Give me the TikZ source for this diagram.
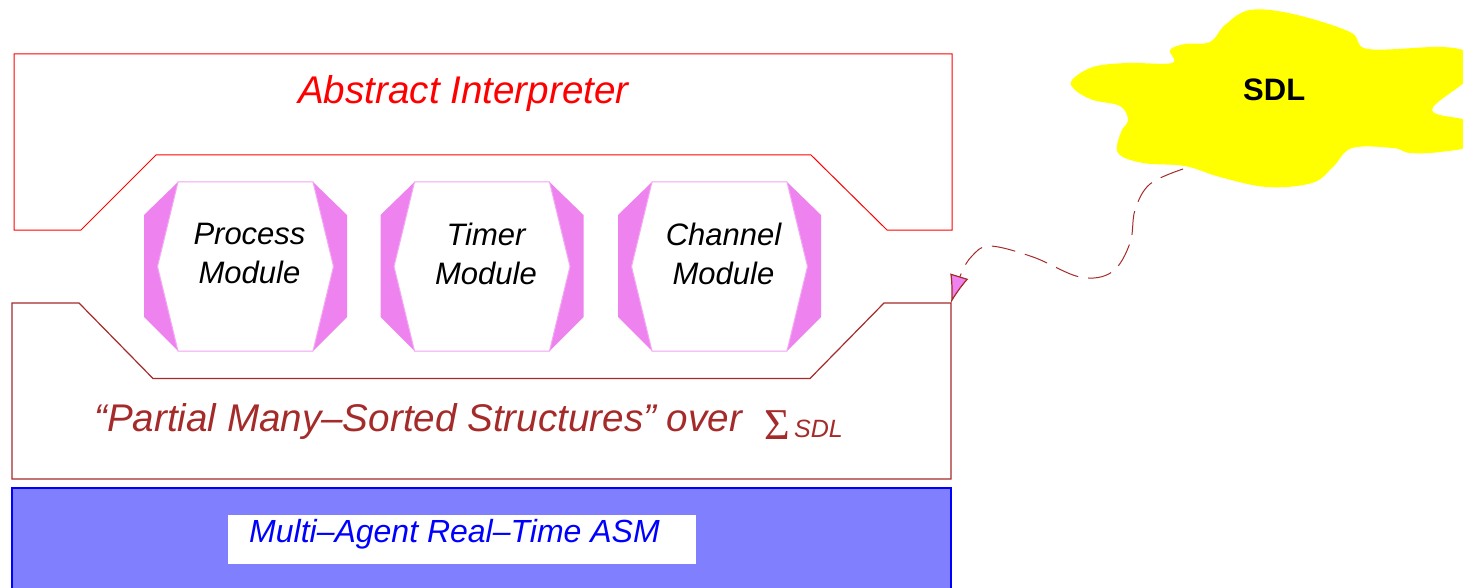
\documentclass[tikz,border=0pt]{standalone}
\usepackage{fontspec}
\setmainfont{Liberation Sans}
\newfontfamily\sigmafont{Liberation Serif}
\usetikzlibrary{arrows.meta}

\definecolor{interpred}{HTML}{FF0000}
\definecolor{structbrown}{HTML}{A52A2A}
\definecolor{modviolet}{HTML}{EE82EE}
\definecolor{asmblue}{HTML}{8080FF}
\definecolor{asmtextblue}{HTML}{0000FF}
\definecolor{sdlyellow}{HTML}{FFFF00}

\tikzset{
	bigtext/.style={font=\fontsize{38.6}{46}\selectfont\itshape, inner sep=0pt, anchor=base west},
	modlabel/.style={font=\fontsize{31}{39}\selectfont\itshape, align=center, inner sep=0pt},
	asmtext/.style={font=\fontsize{32}{40}\selectfont\itshape, text=asmtextblue, inner sep=0pt, anchor=base west},
}

\begin{document}
\begin{tikzpicture}[x=1pt,y=-1pt]
	\useasboundingbox (0,0) rectangle (1463,588);
	
	\draw[interpred, line width=1pt] (14,54) -- (952,54) -- (952,230) -- (887,230) -- (811,155) -- (156,155) -- (81,230) -- (14,230) -- cycle;
	\node[bigtext, text=interpred] (interp) at (298,103.5) {Abstract Interpreter};
	
	\foreach \cx/\name/\lbl in {245.5/proc/Process, 482/timer/Timer, 719.5/chan/Channel} {
		\fill[modviolet] (\cx-67.5,182) -- (\cx+67.5,182) -- (\cx+101.5,215) -- (\cx+101.5,317) -- (\cx+67.5,351) -- (\cx-67.5,351) -- (\cx-101.5,317) -- (\cx-101.5,215) -- cycle;
		\filldraw[draw=modviolet!70, fill=white, line width=1pt] (\cx-67.5,182) -- (\cx+67.5,182) -- (\cx+88,266.5) -- (\cx+67.5,351) -- (\cx-67.5,351) -- (\cx-88,266.5) -- cycle;
		\node[modlabel] (\name) at (\cx+4,253.5) {\lbl\\Module};
	}
	
	\draw[structbrown, line width=1.2pt] (12,303) -- (79,303) -- (153,378.5) -- (810,378.5) -- (884,303) -- (951,303) -- (951,479) -- (12,479) -- cycle;
	\coordinate (corner) at (951,303);
	\node[bigtext, text=structbrown] (pmss) at (94,431) {``Partial Many--Sorted Structures'' over};
	\node[inner sep=0pt, anchor=base west, text=structbrown, font=\fontsize{44}{46}\selectfont\sigmafont] (sigma) at (764,439) {Σ};
	\node[inner sep=0pt, anchor=base west, text=structbrown, font=\fontsize{25}{30}\selectfont\itshape] (sigsdl) at (794,437) {SDL};
	
	\filldraw[fill=asmblue, draw=asmtextblue, line width=1.5pt] (12,488) rectangle (951,600);
	\node[fill=white, minimum width=468pt, minimum height=49pt, inner sep=0pt] (asmbox) at (462,539.5) {};
	\node[asmtext] (asm) at (249,542.7) {Multi--Agent Real--Time ASM};
	
	\fill[sdlyellow] plot[smooth cycle, tension=0.6] coordinates {(1072,80) (1093,67) (1127,63) (1172,63) (1170,50) (1185,44) (1210,42) (1225,25) (1250,10) (1293,14) (1350,32) (1368,49) (1443,47) (1470,55) (1470,77) (1432,110) (1470,122) (1470,145) (1440,152) (1410,153) (1393,148) (1352,148) (1333,167) (1312,183) (1267,187) (1220,177) (1185,166) (1143,163) (1118,153) (1121,132) (1128,120) (1120,106) (1093,100) (1075,90)};
	\node[inner sep=0pt, anchor=base west, font=\fontsize{31}{38}\selectfont\bfseries] (sdl) at (1243,100.5) {SDL};
	\coordinate (cloudfoot) at (1183,169);
	
	\draw[structbrown, line width=1pt, dash pattern=on 24pt off 10pt, -{Latex[length=28pt, width=19pt, fill=modviolet, line width=1.2pt]}] plot[smooth, tension=0.6] coordinates {(cloudfoot) (1150,184) (1135,210) (1130,243) (1112,272) (1080,277) (1033,257) (990,246) (972,256) (961,274) (corner)};
\end{tikzpicture}
\end{document}
